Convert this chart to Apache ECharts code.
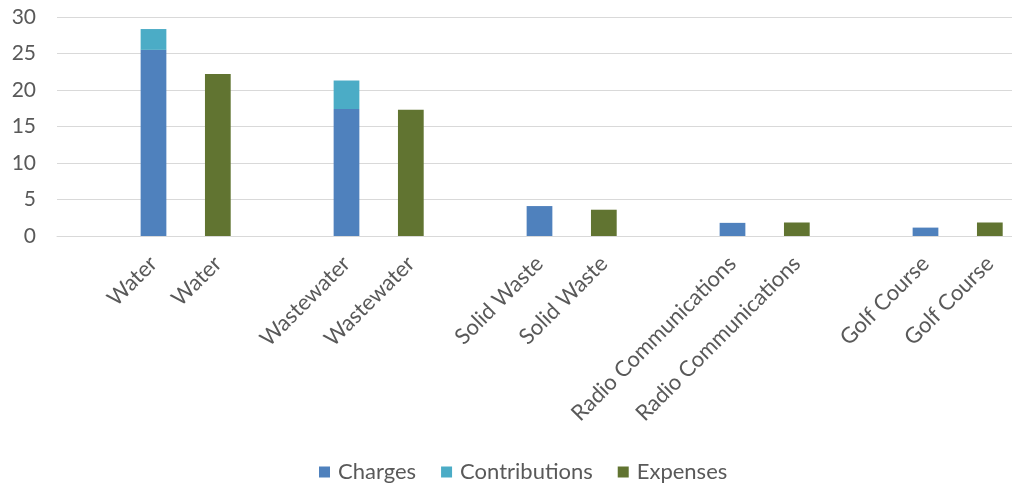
<!DOCTYPE html>
<html>
<head>
<meta charset="utf-8">
<script src="https://cdn.jsdelivr.net/npm/echarts@6/dist/echarts.min.js"></script>
<style>
  html, body { margin: 0; padding: 0; background: #fff; }
  #chart { width: 1012px; height: 484px; }
</style>
</head>
<body>
<div id="chart"></div>
<script>
// Enterprise funds: revenue (charges + contributions) beside expenses, $ millions
const categories = ['', 'Water', 'Water', '', 'Wastewater', 'Wastewater', '', 'Solid Waste', 'Solid Waste', '',
  'Radio Communications', 'Radio Communications', '', 'Golf Course', 'Golf Course'];
const charges =       [null, 25.5, null, null, 17.4, null, null, 4.1, null, null, 1.8, null, null, 1.15, null];
const contributions = [null, 2.85, null, null, 3.9, null, null, null, null, null, null, null, null, null, null];
const expenses =      [null, null, 22.2, null, null, 17.3, null, null, 3.6, null, null, 1.85, null, null, 1.85];
const yTicks = { min: 0, max: 30, interval: 5 };

const FONT = 'Lato';
const TEXT = '#595959';

const chart = echarts.init(document.getElementById('chart'), null, { renderer: 'canvas' });

function barSeries(name, data, color) {
  return {
    name, type: 'bar', stack: 'fund', data,
    barWidth: '40%',
    itemStyle: { color },
    emphasis: { disabled: true }
  };
}

chart.setOption({
  animation: false,
  textStyle: { fontFamily: FONT },
  // the last category runs a little past the right edge of the canvas
  grid: { left: 57, top: 17, right: -10, height: 219, containLabel: false, outerBoundsMode: 'none' },
  legend: {
    left: 314, top: 456,
    itemWidth: 11, itemHeight: 11, itemGap: 25,
    icon: 'rect',
    textStyle: { fontFamily: FONT, fontSize: 22, color: TEXT, padding: [0, 0, 0, 3] },
    data: ['Charges', 'Contributions', 'Expenses']
  },
  xAxis: {
    type: 'category',
    data: categories,
    axisLine: { lineStyle: { color: '#D9D9D9', width: 1 } },
    axisTick: { show: false },
    axisLabel: {
      interval: 0, rotate: 45, margin: 24,
      fontFamily: FONT, fontSize: 22, color: TEXT
    }
  },
  yAxis: {
    type: 'value',
    min: yTicks.min, max: yTicks.max, interval: yTicks.interval,
    axisLine: { show: false },
    axisTick: { show: false },
    splitLine: { lineStyle: { color: '#D9D9D9', width: 1 } },
    axisLabel: { margin: 21, fontFamily: FONT, fontSize: 21, color: TEXT }
  },
  series: [
    barSeries('Charges', charges, '#4F81BD'),
    barSeries('Contributions', contributions, '#4BACC6'),
    barSeries('Expenses', expenses, '#617431')
  ]
});
</script>
</body>
</html>
